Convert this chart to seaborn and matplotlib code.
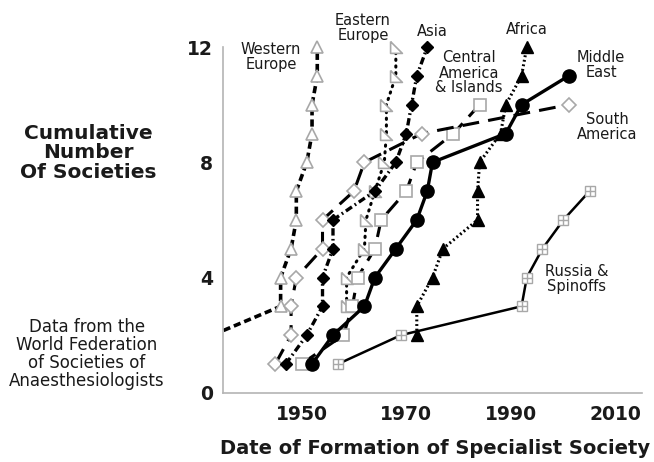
import matplotlib
matplotlib.use("Agg")
import matplotlib.pyplot as plt
import seaborn as sns
import pandas as pd

sns.set_theme(style="white")
plt.rcParams['font.family'] = ['DejaVu Sans']

# ---- data (year of formation, cumulative number of societies) ----
we_years = [1930, 1933, 1946, 1946, 1948, 1949, 1949, 1951, 1952, 1952, 1953, 1953]
we_counts = [1, 2, 3, 4, 5, 6, 7, 8, 9, 10, 11, 12]

ee_years = [1958.6, 1958.6, 1962, 1962.3, 1964, 1965.8, 1966.2, 1966.2, 1968, 1968]
ee_counts = [3, 4, 5, 6, 7, 8, 9, 10, 11, 12]

asia_years = [1947, 1951, 1954, 1954, 1956, 1956, 1964, 1968, 1970, 1971, 1972, 1974]
asia_counts = [1, 2, 3, 4, 5, 6, 7, 8, 9, 10, 11, 12]

ca_years = [1950, 1958, 1959.7, 1960.7, 1964, 1965.2, 1970, 1972, 1979, 1984]
ca_counts = [1, 2, 3, 4, 5, 6, 7, 8, 9, 10]

sa_years = [1945, 1948, 1948, 1949, 1954, 1954, 1960, 1962, 1973, 2001]
sa_counts = [1, 2, 3, 4, 5, 6, 7, 8, 9, 10]

me_years = [1952, 1956, 1962, 1964, 1968, 1972, 1974, 1975, 1989, 1992, 2001]
me_counts = [1, 2, 3, 4, 5, 6, 7, 8, 9, 10, 11]

af_years = [1972, 1972, 1975, 1977, 1983.6, 1983.6, 1984, 1988, 1989, 1992, 1993]
af_counts = [2, 3, 4, 5, 6, 7, 8, 9, 10, 11, 12]

ru_years = [1957, 1969, 1992, 1993, 1996, 2000, 2005]
ru_counts = [1, 2, 3, 4, 5, 6, 7]

x_ticks = [1940, 1950, 1960, 1970, 1980, 1990, 2000, 2010]
x_labels = ["", "1950", "", "1970", "", "1990", "", "2010"]
y_ticks = [0, 2, 4, 6, 8, 10, 12]
y_labels = ["0", "", "4", "", "8", "", "12"]

GRAY = "#a8a8a8"
AX = "#b4b4b4"
W, H = 654, 462

fig = plt.figure(figsize=(6.54, 4.62), dpi=100)
ax = fig.add_axes([223 / W, 69.3 / H, (642 - 223) / W, 12.6 * 28.8 / H])


def draw(years, counts, z=2, **kw):
    df = pd.DataFrame({"year": years, "count": counts})
    sns.lineplot(data=df, x="year", y="count", ax=ax, sort=False,
                 estimator=None, color="black", legend=False, zorder=z, **kw)


# Western Europe: open triangles, short dashes
draw(we_years, we_counts, marker="^", ms=9, mfc="white", mec=GRAY, mew=1.2,
     lw=2.6, dashes=(2.0, 1.1))
# Eastern Europe: open right triangles, dotted
ee_marker = [(-1, 1), (-1, -1), (1, -1), (-1, 1)]
draw(ee_years, ee_counts, marker=ee_marker, ms=8.5, mfc="white", mec=GRAY, mew=1.2,
     lw=2.2, dashes=(0.4, 1.8), dash_capstyle="round")
# Central America & Islands: open squares, long dashes
draw(ca_years, ca_counts, marker="s", ms=9, mfc="white", mec=GRAY, mew=1.2,
     lw=2.2, dashes=(5.5, 3.0))
# South America: open diamonds, long dashes
draw(sa_years, sa_counts, marker="D", ms=7.5, mfc="white", mec=GRAY, mew=1.2,
     lw=2.2, dashes=(5.5, 3.0))
# Russia & Spinoffs: squares with cross, solid
draw(ru_years, ru_counts, marker="s", ms=7.5, mfc="white", mec=GRAY, mew=1.0,
     lw=1.8, z=3)
ax.plot(ru_years, ru_counts, ls="none", marker="+", ms=7.5, mec=GRAY, mew=1.0, zorder=3.1)
# Asia: black diamonds, dash-dot
draw(asia_years, asia_counts, marker="D", ms=6.2, mfc="black", mec="black", mew=1,
     lw=2.4, dashes=(2.2, 1.0, 0.5, 1.0), z=4)
# Africa: black triangles, dense dots
draw(af_years, af_counts, marker="^", ms=8.5, mfc="black", mec="black", mew=1,
     lw=2.2, dashes=(0.6, 0.9), z=4)
# Middle East: black circles, solid
draw(me_years, me_counts, marker="o", ms=9.5, mfc="black", mec="black", mew=1,
     lw=2.4, z=5)

ax.set_xlim(1935, 2015)
ax.set_ylim(0, 12.6)
ax.set_xlabel("")
ax.set_ylabel("")
for s in ["top", "right"]:
    ax.spines[s].set_visible(False)
for s in ["left", "bottom"]:
    ax.spines[s].set_color(AX)
    ax.spines[s].set_linewidth(1.2)
ax.spines["left"].set_bounds(0, 12)
ax.set_xticks(x_ticks)
ax.set_xticklabels(x_labels)
ax.set_yticks(y_ticks)
ax.set_yticklabels(y_labels)
ax.tick_params(axis="both", direction="in", length=4, width=1, color=AX,
               labelsize=13.5, labelcolor="#1a1a1a")
ax.tick_params(axis="x", pad=8.5)
ax.tick_params(axis="y", pad=7)
for t in ax.get_xticklabels() + ax.get_yticklabels():
    t.set_fontweight("bold")


def ftext(x, y, s, **kw):
    fig.text(x / W, 1 - y / H, s, ha="center", va="center", color="#1a1a1a", **kw)


ftext(435, 448, "Date of Formation of Specialist Society", fontsize=14, fontweight="bold")
ftext(88, 153, "Cumulative\nNumber\nOf Societies", fontsize=14.5, fontweight="bold",
      linespacing=1.05)
ftext(87, 354, "Data from the\nWorld Federation\nof Societies of\nAnaesthesiologists",
      fontsize=12, linespacing=1.0)

lab = dict(fontsize=10.5, linespacing=1.0)
ftext(271, 57, "Western\nEurope", **lab)
ftext(363, 28, "Eastern\nEurope", **lab)
ftext(432, 31, "Asia", **lab)
ftext(469, 73, "Central\nAmerica\n& Islands", **lab)
ftext(527, 30, "Africa", **lab)
ftext(601, 65, "Middle\nEast", **lab)
ftext(607, 127, "South\nAmerica", **lab)
ftext(577, 279, "Russia &\nSpinoffs", **lab)

fig.savefig("out.png", dpi=100)
